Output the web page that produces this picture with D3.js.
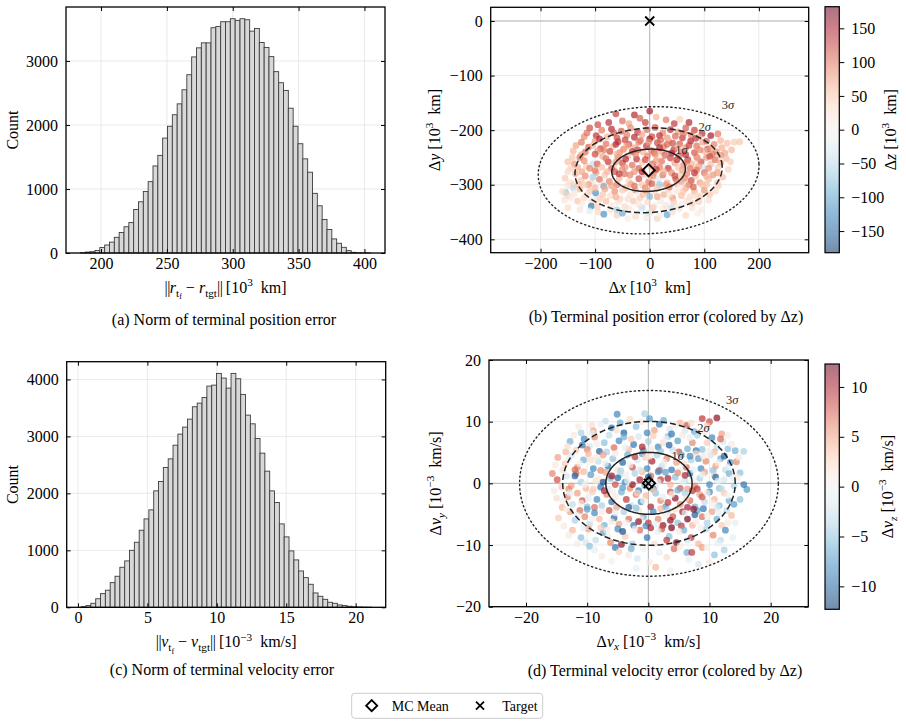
<!DOCTYPE html>
<html><head><meta charset="utf-8">
<script src="https://cdn.jsdelivr.net/npm/d3@7"></script>
<style>
body{margin:0;background:#fff}
svg{display:block}
text{font-family:"Liberation Serif","DejaVu Serif",serif;fill:#000;white-space:pre}
</style>
</head><body>
<svg id="c" width="906" height="725"></svg>
<script>
// ---------------- DATA ----------------
// (a) histogram of ||r_tf - r_tgt|| [10^3 km], 60 equal bins
const posBinMin = 184.4, posBinMax = 404.6;
const posCounts = [5,15,20,40,85,125,170,245,320,410,
  475,680,800,960,1115,1360,1525,1795,1980,2160,
  2330,2550,2785,3063,3205,3283,3283,3519,3540,3613,
  3613,3660,3634,3660,3644,3466,3508,3288,3210,3068,
  2833,2660,2540,2262,1980,1707,1471,1262,932,738,
  524,367,220,152,89,37,10,2,1,1];
const posHistTicksX = [200,250,300,350,400];
const posHistTicksY = [0,1000,2000,3000];

// (c) histogram of ||v_tf - v_tgt|| [10^-3 km/s], 60 equal bins
const velBinMin = 0.234, velBinMax = 21.12;
const velCounts = [12,30,70,150,240,300,433,545,703,814,
  1000,1142,1353,1552,1710,2044,2208,2454,2606,2846,
  3040,3163,3303,3520,3584,3684,3883,3900,4106,4024,
  3848,4106,4012,3737,3374,3221,2964,2706,2390,2044,
  1839,1464,1236,990,832,638,521,404,252,193,
  140,88,70,41,30,18,10,6,3,2];
const velHistTicksX = [0,5,10,15,20];
const velHistTicksY = [0,1000,2000,3000,4000];

// (b) terminal position error samples [dx, dy, dz] (10^3 km)
const posSamples = [
[0,-165,150],[-28,-172,140],[-62,-170,125],[12,-176,60],[-18,-178,110],[-75,-186,135],[-50,-183,100],[30,-181,95],[45,-188,130],[-95,-190,120],[72,-186,140],[-38,-188,70],[55,-180,40],[-8,-186,125],
[-110,-196,120],[-88,-200,95],[-70,-198,140],[-52,-202,110],[-35,-196,85],[-22,-204,130],[-5,-199,100],[10,-195,115],[24,-205,90],[38,-199,140],[52,-203,75],[66,-196,110],[82,-200,125],[96,-206,135],[112,-210,150],[-120,-212,85],[-98,-210,130],[-78,-212,60],[-60,-214,120],[-42,-209,95],[-28,-213,140],[-14,-208,70],[4,-212,120],[18,-210,135],[32,-214,80],[47,-211,105],[60,-214,130],[76,-209,90],[90,-213,60],[125,-207,95],
[-135,-228,70],[-125,-222,95],[-112,-231,110],[-100,-220,80],[-90,-234,125],[-80,-225,100],[-68,-230,55],[-58,-221,130],[-48,-235,90],[-38,-226,115],[-27,-232,70],[-17,-219,105],[-6,-229,135],[3,-237,85],[14,-223,120],[26,-230,95],[35,-219,60],[44,-236,130],[55,-225,110],[66,-232,80],[75,-220,140],[86,-229,100],[97,-222,70],[106,-235,125],[118,-226,90],[130,-219,60],[142,-224,55],[155,-222,45],[165,-221,50],[150,-236,60],[-140,-238,60],[-118,-240,100],[-95,-238,75],[-73,-239,120],[-55,-241,85],[-32,-239,130],[-12,-240,60],[8,-241,110],[22,-239,75],[40,-242,140],[60,-240,95],[82,-241,115],[100,-238,60],[122,-240,85],[138,-242,70],
[-150,-258,55],[-138,-262,80],[-128,-250,100],[-116,-266,45],[-104,-262,-40],[-96,-262,110],[-86,-248,70],[-76,-258,130],[-66,-266,40],[-58,-250,95],[-50,-260,120],[-40,-247,60],[-32,-264,100],[-24,-253,135],[-14,-259,50],[-4,-247,90],[6,-262,115],[14,-250,30],[22,-257,100],[30,-266,-20],[38,-251,125],[46,-260,70],[54,-247,105],[62,-264,85],[70,-254,130],[78,-262,60],[86,-249,95],[94,-258,120],[98,-268,-30],[104,-250,80],[112,-262,55],[120,-254,100],[130,-260,70],[140,-252,60],[148,-258,45],[-145,-270,40],[-132,-268,65],[-110,-270,90],[-88,-268,55],[-70,-270,105],[-45,-268,80],[-20,-270,110],[2,-266,60],[18,-268,95],[34,-270,130],[52,-268,50],[74,-270,100],[90,-266,70],[108,-270,85],[125,-268,45],[-60,-244,65],[10,-244,85],[-125,-245,75],[115,-244,95],[66,-245,140],
[-155,-288,45],[-146,-296,30],[-136,-280,65],[-126,-292,50],[-118,-284,85],[-108,-296,35],[-98,-278,70],[-92,-290,100],[-82,-282,50],[-74,-294,90],[-64,-276,115],[-56,-288,60],[-46,-280,100],[-38,-294,40],[-28,-276,80],[-20,-289,120],[-10,-281,55],[-2,-295,95],[8,-278,70],[16,-290,-25],[24,-282,100],[32,-296,60],[40,-278,85],[48,-290,110],[56,-282,45],[62,-296,-15],[68,-280,90],[76,-292,120],[84,-284,55],[92,-296,75],[100,-278,100],[108,-290,60],[116,-282,80],[124,-296,45],[134,-286,55],[-140,-300,40],[-130,-299,55],[-112,-300,75],[-86,-300,40],[-60,-300,95],[-34,-299,70],[-14,-300,50],[4,-298,110],[30,-300,80],[50,-299,60],[72,-300,95],[96,-300,50],[-50,-272,85],[12,-272,130],[60,-273,75],[-104,-286,-60],[-140,-306,-50],[-84,-303,-90],[0,-286,40],[86,-273,100],[-154,-314,-70],
[-160,-312,30],[-150,-320,40],[-138,-316,20],[-128,-308,60],[-120,-324,35],[-110,-312,50],[-99,-315,-110],[-92,-326,45],[-82,-308,70],[-72,-320,30],[-64,-312,85],[-54,-326,40],[-44,-306,60],[-36,-318,20],[-26,-310,75],[-18,-324,45],[-8,-306,90],[0,-322,-80],[8,-312,30],[18,-300,-70],[26,-318,65],[34,-308,40],[42,-324,80],[50,-312,20],[58,-320,55],[66,-306,70],[74,-322,35],[82,-312,60],[92,-322,45],[100,-310,80],[110,-318,50],[120,-312,35],[-156,-328,25],[-132,-330,50],[-106,-330,30],[-80,-330,55],[-58,-332,25],[-30,-330,50],[-4,-332,35],[20,-330,15],[44,-332,45],[68,-330,30],[90,-331,40],[-20,-315,5],[56,-304,10],
[-150,-342,30],[-128,-346,20],[-107,-339,-130],[-94,-350,35],[-84,-354,-110],[-72,-346,25],[-60,-356,40],[-50,-352,-90],[-38,-344,20],[-26,-358,30],[-14,-342,-45],[-6,-360,15],[4,-348,25],[14,-362,40],[24,-344,10],[32,-355,-95],[42,-350,30],[54,-344,20],[66,-356,35],[78,-342,25],[96,-346,15],[-18,-350,-10],[10,-338,0],[-40,-362,10],[60,-336,5],
[-115,-205,100],[-92,-216,140],[-66,-205,115],[-45,-218,125],[-20,-222,95],[0,-216,145],[20,-218,110],[42,-224,120],[62,-206,100],[84,-215,130],[104,-220,110],[-104,-228,60],[-84,-236,95],[-62,-226,140],[-42,-229,75],[-22,-236,120],[-2,-222,80],[18,-232,140],[32,-226,105],[52,-232,70],[72,-228,125],[92,-236,90],[112,-232,75],[132,-232,65],
[-142,-250,50],[-120,-256,85],[-100,-244,120],[-80,-252,100],[-62,-258,75],[-44,-253,140],[-26,-244,90],[-8,-254,120],[12,-256,75],[28,-246,110],[50,-254,135],[68,-258,95],[88,-252,75],[110,-248,120],[130,-246,80],[-150,-276,35],[-124,-276,70],[-100,-274,95],[-78,-276,60],[-56,-280,130],[-36,-282,90],[-14,-276,140],[6,-284,85],[26,-276,65],[46,-284,120],[64,-288,90],[82,-278,130],[104,-284,65],[124,-278,75],[144,-272,40],
[-150,-302,25],[-120,-300,45],[-100,-306,60],[-70,-302,75],[-50,-310,45],[-28,-302,100],[-6,-312,70],[14,-306,50],[36,-304,95],[58,-294,70],[80,-304,110],[104,-300,55],[126,-302,40],[-144,-324,15],[-116,-318,30],[-86,-318,50],[-62,-322,65],[-40,-326,30],[-12,-318,55],[14,-322,70],[36,-318,25],[62,-312,50],[86,-320,35],[108,-328,30],[-124,-336,10],[-96,-340,40],[-70,-338,15],[-46,-340,35],[-20,-336,20],[6,-342,45],[30,-338,25],[52,-340,15],[78,-334,40],[-110,-348,-20],[-2,-352,-30],[20,-356,-5],[88,-352,10],[-60,-346,-60],[40,-342,-40]
];
const posMean = [-2,-273.5];
const posTarget = [0,0];
const posSigma = {a:67.5, b:38.7, angleDeg:3.5};
const posSigmaLabelAt = [[58,-236],[101,-194],[143.6,-153.4]];
const posZRange = [-182,182];
const posTicksX = [-200,-100,0,100,200];
const posTicksY = [0,-100,-200,-300,-400];
const posCbarTicks = [-150,-100,-50,0,50,100,150];

// (d) terminal velocity error samples [dvx, dvy, dvz] (10^-3 km/s)
const velSamples = [
[-5.1,11.2,-8],[-0.6,11.3,-4],[0.2,10.5,-7],[-3,10.4,2],[-7,10.1,-3],[2.5,10.2,-6],[5.2,9.8,4],[6.3,9.4,8],[8.8,10.5,9],[11.2,10.6,11],[10,10,8],[9.6,9.3,3],[-9.2,9.4,2],[-9,8.5,5],[-6,9,-9],[-2,9.2,-5],[3.5,8.8,-2],[-4,8.2,-10],[1,8.6,5],[7.5,8.4,-6],[12,8,5],[-11,8.2,-4],
[-12.8,6.8,-6],[-11.8,5.4,3],[-10.5,7.2,-8],[-9.6,6,-2],[-8.8,7.5,6],[-8,5.2,-10],[-7.2,6.6,-5],[-6.4,7.8,-3],[-5.6,5.8,7],[-4.8,6.9,-8],[-4,7.5,-6],[-3.2,5.5,4],[-2.4,6.3,-9],[-1.6,7.6,-2],[-0.8,5.3,-7],[0,6.8,-4],[0.8,7.7,3],[1.6,5.9,-8],[2.4,6.6,2],[3.2,7.6,-5],[4,5.4,-3],[4.8,6.9,-7],[5.6,7.8,1],[6.4,5.6,-6],[7.2,6.6,6],[8,7.8,-4],[8.8,5.5,-5],[9.6,6.6,3],[10.4,7.4,-8],[11.2,5.8,-3],[12.2,6.8,-2],[13,5.6,-5],[14.2,5.3,-6],[15.6,5.2,-4],[-13.5,5.1,4],[-10,5.5,6],[-6.8,5.1,-4],[-1,5.9,10],[2,5.2,-5],[5,5.1,8],[7.8,5.3,-9],[10.8,5.1,4],[-2.8,7.2,3],[3.8,8.0,-9],[11.8,7.2,7],
[-14.8,4.2,5],[-13.6,3.2,3],[-12.6,4.6,-2],[-11.6,2.6,6],[-10.6,3.8,-6],[-9.8,4.8,4],[-9,2.4,-8],[-8.2,3.6,-3],[-7.4,4.6,5],[-6.6,2.8,-9],[-5.8,4,-5],[-5,2.2,2],[-4.2,3.4,-10],[-3.4,4.6,-6],[-2.6,2.6,8],[-1.8,3.8,-2],[-1,4.8,-7],[-0.2,2.4,-8],[0.6,3.6,10],[1.4,4.6,-4],[2.2,2.8,-3],[3,4,6],[3.8,2.2,-9],[4.6,3.4,5],[5.4,4.6,-6],[6.2,2.6,7],[7,3.8,-4],[7.8,4.8,2],[8.6,2.4,-8],[9.4,3.6,6],[10.2,4.6,-2],[11,2.8,5],[11.8,4,-6],[12.6,2.2,-3],[13.4,3.4,-7],[14.4,3.5,6],[15,1.7,-5],[-14,2.2,2],[-12,2.2,7],[-8.5,4.2,1],[-4.5,2.0,-4],[-0.5,4.2,3],[1.8,2.1,8],[5.2,2.1,-1],[8.2,4.0,-7],[12.4,4.4,-10],[-7.8,2.1,6],[10.6,2.1,-5],[-2.2,4.3,9],[6.8,4.4,-8],
[-15.7,1.6,6],[-14.9,0.6,8],[-14.2,-0.6,3],[-13.4,1.2,-2],[-12.6,-0.4,5],[-11.8,1.6,7],[-11,0.2,-4],[-10.2,-0.8,4],[-9.4,1.4,-7],[-8.6,0.4,2],[-7.8,-0.6,-9],[-7,1.8,5],[-6.2,0.8,-5],[-5.4,-0.2,8],[-4.6,1.4,-3],[-3.8,0.2,-8],[-3,-0.8,6],[-2.2,1.6,-4],[-1.4,0.6,10],[-0.6,-0.4,-6],[0.4,1.2,7],[1.2,-0.6,-2],[2,0.6,9],[2.8,1.8,-7],[3.6,-0.2,4],[4.4,1,-5],[5.2,-0.8,8],[6,0.4,-3],[6.8,1.6,-9],[7.6,-0.4,6],[8.4,0.8,-4],[9.2,1.8,5],[10,-0.2,-8],[10.8,1.2,3],[11.6,-0.8,-5],[12.4,0.6,-2],[13.2,1.6,-6],[14,-0.4,-4],[16.1,-1,-7],[-13,-0.9,6],[-9,-0.9,3],[-5,0.9,-10],[-1,1.9,4],[1.6,1.9,-8],[4.8,1.7,6],[8,-0.9,9],[12,-0.9,-3],[-2.6,-0.2,11],[3.2,0.8,10],[0.8,-0.9,-9],[-6.6,-0.9,-2],[6.4,-0.9,5],[-10.6,1.9,4],[13.8,0.9,-1],[-4.2,-0.7,-7],
[-14.1,-3.9,4],[-13.2,-2.2,6],[-12.4,-3.4,-3],[-11.6,-1.6,5],[-10.8,-2.8,8],[-10,-3.8,-5],[-9.2,-1.4,3],[-8.4,-2.6,-8],[-7.6,-3.6,-4],[-6.8,-1.8,6],[-6,-3,-9],[-5.2,-3.9,5],[-4.4,-1.4,-6],[-3.6,-2.6,9],[-2.8,-3.6,-3],[-2,-1.8,7],[-1.2,-3,-8],[-0.4,-2,4],[0.4,-3.8,10],[1.2,-1.6,-5],[2,-2.8,6],[2.8,-3.8,-7],[3.6,-1.4,8],[4.4,-2.4,11],[5.2,-3.4,6],[6,-1.6,-4],[6.8,-2.8,7],[7.6,-3.8,-6],[8.4,-1.8,5],[9.2,-3,-3],[10,-1.4,-8],[10.8,-2.6,4],[11.6,-3.6,-5],[12.4,-1.6,3],[13.2,-2.8,-6],[15,-2.6,-5],[-15,-2.4,2],[-11,-3.2,1],[-7.2,-1.2,10],[-3.2,-3.9,-10],[0.8,-1.1,3],[3.2,-3.1,9],[6.4,-3.9,10],[8.8,-2.2,8],[11.2,-3.9,-2],[14,-3.4,-7],[-1.6,-1.2,-9],[4.8,-1.1,-6],[-8.8,-3.9,7],[7.2,-1.2,9],
[-14.7,-5.6,3],[-13.8,-6.9,1],[-12.8,-4.6,5],[-12,-6,-4],[-11.2,-4.4,7],[-10.4,-5.4,6],[-9.6,-6.6,-3],[-8.8,-4.8,-8],[-8,-5.8,4],[-7.2,-6.8,-6],[-6.4,-4.4,8],[-5.6,-5.6,-10],[-4.8,-6.6,5],[-4,-4.6,-4],[-3.2,-5.8,7],[-2.4,-6.8,-9],[-1.6,-4.4,2],[-0.8,-5.4,-6],[0,-6.4,9],[0.8,-4.6,-8],[1.6,-5.8,6],[2.4,-6.8,11],[3.2,-4.4,-3],[4,-5.4,8],[4.8,-6.4,-5],[5.6,-4.6,10],[6.4,-5.8,12],[7.2,-6.8,4],[8,-4.4,-7],[8.8,-5.4,7],[9.6,-6.4,-4],[10.4,-4.6,5],[11.2,-5.8,-6],[12,-6.8,3],[12.8,-4.4,-3],[13.6,-5.2,4],[-10,-4.2,-7],[-6,-6.2,1],[-2,-4.0,-5],[2,-4.1,4],[5.4,-6.9,9],[9,-4.1,-9],[-0.4,-6.9,-8],[3.6,-6.0,11],[7.6,-5.1,-10],
[-12.4,-7.6,4],[-11,-8.8,-5],[-9.8,-7.4,5],[-8.6,-9.2,-3],[-7.4,-8,-7],[-6.2,-9.6,6],[-5,-7.4,-8],[-3.8,-8.6,3],[-2.6,-9.8,-4],[-1.4,-7.6,7],[-0.2,-8.8,-9],[1,-9.8,2],[2.2,-7.4,8],[3.4,-8.6,-5],[4.6,-9.6,12],[5.8,-7.6,-6],[7,-8.8,9],[8.2,-9.8,4],[9.4,-7.4,-4],[10.6,-8.4,6],[11.8,-9.2,-3],[-4.4,-9.9,11],[0.4,-7.2,10],[6.4,-9.2,-2],[12.6,-7.6,-8],[-10.2,-9.6,-2],[3,-9.2,9],[-7.8,-7.2,3],
[-9.6,-10.2,-5],[-5.4,-10.4,-9],[-4.8,-11.1,3],[-1.8,-12.2,-2],[3,-12,2],[6.3,-11.2,-6],[7.1,-11.2,9],[8.2,-13.1,-2],[10.8,-11.6,-5],[1.2,-13.6,4],[-7.6,-11.8,1],[4.2,-10.6,7],[12.4,-10.8,-4],[-2.8,-10.6,-6],[8.8,-10.4,5],
[-11.4,9.2,1],[-7.8,9.6,-1],[-4.6,9.8,-6],[-1.2,10,1],[1.8,9.6,-9],[4.4,9.4,0],[7,9.8,2],[-12.2,7.8,1],[-9.2,8.2,-1],[-5.2,8.6,2],[-0.2,8.2,-8],[2.8,7.2,0],[6,8.6,-2],[9.2,8.4,1],[13,7.8,0],[-13.2,6,2],[-8.4,6.4,0],[-3.8,5.8,-1],[0.4,5.6,1],[3.4,6.2,-10],[6.8,7.4,-1],[9.8,5.2,0],[13.6,6.4,1],[-10.8,6.2,-9],
[-15.2,3,1],[-13,4,-1],[-11.2,3.2,0],[-9.4,3.8,2],[-7,3.2,-1],[-5.4,4.8,1],[-3,3,0],[-1.4,2.2,-2],[0.2,4.4,1],[2.6,3.4,-1],[4.2,4.8,0],[5.8,3.2,2],[7.4,2.2,-1],[9,4.4,1],[11.4,3.4,0],[13,2.6,-1],[14.8,4.2,1],[-12,1.2,-10],[-6,1.2,11],[0,1,-11],[6,1.3,10],[11,1,-10],[-3.6,1.4,0],[8.8,1.4,-1],
[-15.4,-1.2,1],[-12.8,-1.6,-1],[-10.4,-0.2,0],[-8.2,0.8,1],[-5.8,-1.4,0],[-3.4,0.4,-1],[-1.8,-1.6,2],[1.6,0.2,0],[3.8,-1.8,1],[5.6,0.2,-1],[7.2,0.6,0],[9.6,-1.6,1],[11.4,0.4,-1],[13,-2,0],[14.6,1,1],[-14,-2.8,0],[-9.8,-2.4,-1],[-5.4,-2.2,1],[-0.8,-2.8,0],[2.4,-2.2,-1],[6.2,-2.4,2],[10.4,-3.2,0],[15.6,-0.2,-9],[-7.4,0.2,-11],
[-13.4,-4.2,1],[-11.6,-5.2,-1],[-9.2,-5.8,0],[-7.6,-4.6,1],[-5.4,-4.8,-1],[-3.6,-6.4,0],[-1.2,-5.8,1],[1.2,-6.6,-1],[2.8,-5.2,0],[4.4,-4.2,2],[6,-4.8,-1],[7.8,-6.2,1],[9.6,-5.2,0],[11.6,-4.8,-1],[13,-6.4,1],[-10.6,-7.2,-1],[-6.8,-7.6,1],[-2.2,-7.4,0],[1.6,-7.8,-1],[5,-7.8,1],[8.6,-7.2,0],[14.2,-6.4,-1],[-1.6,-6.2,11],[3.8,-7.2,12],[7.4,-4.2,11],[-4.2,-7.8,-11],
[-11.6,-9.8,1],[-8.8,-10.8,-1],[-6.6,-8.6,0],[-3.2,-11.6,1],[-0.8,-10.6,0],[1.8,-11.2,-1],[5.2,-10.2,1],[9.6,-10.4,0],[11.4,-9.6,-1],[-6,-12.6,0],[0.2,-12.8,1],[6.6,-12.4,-1],[3.6,-14.2,0],[-13,-8.4,1],[13.8,-8.8,-1],[10,-12.8,1],[-2,-13.8,-1]
];
const velMean = [0.1,0];
const velTarget = [0,0];
const velSigma = {a:7.05, b:5.02, angleDeg:0};
const velSigmaLabelAt = [[4.8,4.5],[9.0,8.9],[13.7,13.5]];
const velZRange = [-12.3,12.3];
const velTicks = [-20,-10,0,10,20];
const velCbarTicks = [-10,-5,0,5,10];

const legendItems = ["MC Mean","Target"];

// ---------------- DRAWING ----------------
const svg = d3.select('#c');
const TICK_FS = 16, LABEL_FS = 16;
const fmt = d => d < 0 ? '\u2212' + Math.abs(d) : String(d);

function rich(sel, parts, size){
  sel.style('font-size', size + 'px');
  let cur = 0;
  parts.forEach(p => {
    let shift = 0, fs = size;
    if (p.sup) { shift = -0.42 * size; fs = 0.7 * size; }
    else if (p.sub) { shift = 0.22 * size; fs = 0.7 * size; }
    else if (p.sub2) { shift = 0.4 * size; fs = 0.5 * size; }
    const ts = sel.append('tspan').attr('dy', (shift - cur).toFixed(2)).style('font-size', fs + 'px').text(p.t);
    if (p.i) ts.style('font-style', 'italic');
    if (p.ls != null) ts.style('letter-spacing', p.ls + 'px');
    cur = shift;
  });
}

function panel(o){
  const g = svg.append('g').attr('transform', `translate(${o.left},${o.top})`);
  const x = d3.scaleLinear().domain(o.xDomain).range([0, o.W]);
  const y = d3.scaleLinear().domain(o.yDomain).range([o.H, 0]);
  const grid = g.append('g');
  grid.selectAll('.gx').data(o.xTicks).join('line')
    .attr('x1', d => x(d)).attr('x2', d => x(d)).attr('y1', 0).attr('y2', o.H)
    .attr('stroke', '#e4e4e4').attr('stroke-width', 0.8);
  grid.selectAll('.gy').data(o.yTicks).join('line')
    .attr('y1', d => y(d)).attr('y2', d => y(d)).attr('x1', 0).attr('x2', o.W)
    .attr('stroke', '#e4e4e4').attr('stroke-width', 0.8);
  const content = g.append('g');
  const over = g.append('g');
  return {g, x, y, content, over, o};
}

function finish(p, xLabelParts, yLabelParts, caption, capX, capY){
  const {g, x, y, o} = p;
  const styleAxis = a => {
    a.select('.domain').remove();
    a.selectAll('line').attr('stroke', '#000').attr('stroke-width', 1);
    a.selectAll('text').attr('font-family', null).attr('font-size', null)
      .style('font-size', TICK_FS + 'px').attr('fill', '#000');
  };
  g.append('g').attr('transform', `translate(0,${o.H})`)
    .call(d3.axisBottom(x).tickValues(o.xTicks).tickSize(-4).tickPadding(4.5).tickFormat(fmt)).call(styleAxis);
  g.append('g').call(d3.axisTop(x).tickValues(o.xTicks).tickSize(-4).tickFormat('')).call(styleAxis);
  g.append('g').call(d3.axisLeft(y).tickValues(o.yTicks).tickSize(-4).tickPadding(8).tickFormat(fmt)).call(styleAxis);
  g.append('g').attr('transform', `translate(${o.W},0)`)
    .call(d3.axisRight(y).tickValues(o.yTicks).tickSize(-4).tickFormat('')).call(styleAxis);
  g.append('rect').attr('x', 0).attr('y', 0).attr('width', o.W).attr('height', o.H)
    .attr('fill', 'none').attr('stroke', '#000').attr('stroke-width', 1.3);
  const xl = g.append('text').attr('x', o.W / 2 + (o.xLabelDx || 0)).attr('y', o.H + 40).attr('text-anchor', 'middle');
  rich(xl, xLabelParts, LABEL_FS);
  const yl = g.append('text').attr('transform', `translate(${o.yLabelX},${o.H / 2}) rotate(-90)`).attr('text-anchor', 'middle');
  rich(yl, yLabelParts, LABEL_FS);
  svg.append('text').attr('x', capX).attr('y', capY).attr('text-anchor', 'middle')
    .style('font-size', '16px').text(caption);
}

function histogram(p, binMin, binMax, counts){
  const n = counts.length, w = (binMax - binMin) / n;
  const bins = counts.map((c, i) => ({x0: binMin + i * w, x1: binMin + (i + 1) * w, c}));
  p.content.selectAll('rect').data(bins).join('rect')
    .attr('x', d => p.x(d.x0)).attr('width', d => p.x(d.x1) - p.x(d.x0))
    .attr('y', d => p.y(d.c)).attr('height', d => p.y(0) - p.y(d.c))
    .attr('fill', '#d8d8d8').attr('stroke', '#3c3c3c').attr('stroke-width', 0.9);
}

function cmapFor(range){
  return v => d3.interpolateRdBu(1 - (v - range[0]) / (range[1] - range[0]));
}

function scatterPanel(p, samples, zRange, mean, target, sig, labelAt){
  const {x, y, content, over} = p;
  const cm = cmapFor(zRange);
  content.append('line').attr('x1', x(0)).attr('x2', x(0)).attr('y1', 0).attr('y2', p.o.H)
    .attr('stroke', '#b5b5b5').attr('stroke-width', 1);
  content.append('line').attr('y1', y(0)).attr('y2', y(0)).attr('x1', 0).attr('x2', p.o.W)
    .attr('stroke', '#b5b5b5').attr('stroke-width', 1);
  content.selectAll('circle').data(samples).join('circle')
    .attr('cx', d => x(d[0])).attr('cy', d => y(d[1])).attr('r', 3.4)
    .attr('fill', d => cm(d[2])).attr('fill-opacity', 0.7);
  const th = sig.angleDeg * Math.PI / 180;
  const dashes = [null, '6,3', '1.3,3'];
  [1, 2, 3].forEach((k, i) => {
    const pts = d3.range(0, 361, 2).map(a => {
      const t = a * Math.PI / 180;
      const ex = k * sig.a * Math.cos(t), ey = k * sig.b * Math.sin(t);
      return [mean[0] + ex * Math.cos(th) - ey * Math.sin(th), mean[1] + ex * Math.sin(th) + ey * Math.cos(th)];
    });
    over.append('path').attr('d', d3.line().x(d => x(d[0])).y(d => y(d[1]))(pts))
      .attr('fill', 'none').attr('stroke', '#222').attr('stroke-width', i === 2 ? 1.4 : 1.5)
      .attr('stroke-dasharray', dashes[i]).attr('stroke-linecap', i === 2 ? 'round' : 'butt');
    const lt = over.append('text').attr('x', x(labelAt[i][0])).attr('y', y(labelAt[i][1]) + 4)
      .attr('text-anchor', 'middle').style('font-size', '12.5px').style('fill', '#2a2a2a');
    lt.append('tspan').text(String(k)).style('fill', '#2a2a2a');
    lt.append('tspan').text('\u03c3').style('font-style', 'italic').style('fill', '#2a2a2a');
  });
  const tx = x(target[0]), ty = y(target[1]), s = 4.5;
  over.append('path').attr('d', `M${tx - s},${ty - s}L${tx + s},${ty + s}M${tx - s},${ty + s}L${tx + s},${ty - s}`)
    .attr('stroke', '#000').attr('stroke-width', 1.8).attr('fill', 'none');
  const mx = x(mean[0]), my = y(mean[1]), r = 6.2;
  over.append('path').attr('d', `M${mx},${my - r}L${mx + r},${my}L${mx},${my + r}L${mx - r},${my}Z`)
    .attr('stroke', '#000').attr('stroke-width', 1.9).attr('fill', 'none');
}

function colorbar(cx, cy, cw, ch, range, ticks, id, labelParts, labelX){
  const cm = cmapFor(range);
  const defs = svg.append('defs');
  const grad = defs.append('linearGradient').attr('id', id).attr('x1', 0).attr('y1', 1).attr('x2', 0).attr('y2', 0);
  d3.range(0, 1.0001, 0.05).forEach(t => {
    grad.append('stop').attr('offset', t).attr('stop-color', cm(range[0] + t * (range[1] - range[0]))).attr('stop-opacity', 0.55);
  });
  const s = d3.scaleLinear().domain(range).range([ch, 0]);
  const g = svg.append('g').attr('transform', `translate(${cx},${cy})`);
  g.append('rect').attr('width', cw).attr('height', ch).attr('fill', `url(#${id})`);
  g.append('rect').attr('width', cw).attr('height', ch).attr('fill', 'none').attr('stroke', '#000').attr('stroke-width', 1.2);
  const ax = g.append('g').attr('transform', `translate(${cw},0)`)
    .call(d3.axisRight(s).tickValues(ticks).tickSize(5).tickPadding(7).tickFormat(fmt));
  ax.select('.domain').remove();
  ax.selectAll('line').attr('stroke', '#000');
  ax.selectAll('text').attr('font-family', null).attr('font-size', null).style('font-size', TICK_FS + 'px').attr('fill', '#000');
  const lab = svg.append('text').attr('transform', `translate(${labelX},${cy + ch / 2}) rotate(-90)`).attr('text-anchor', 'middle');
  rich(lab, labelParts, LABEL_FS);
}

const BARS = {t:'||', ls:-0.5};
const BARS2 = {t:'|| ', ls:-0.5};

// ----- (a)
(function(){
  const R = posBinMax - posBinMin;
  const p = panel({left: 66, top: 7, W: 319, H: 246,
    xDomain: [posBinMin - 0.05 * R, posBinMax + 0.05 * R], yDomain: [0, d3.max(posCounts) * 1.05],
    xTicks: posHistTicksX, yTicks: posHistTicksY});
  histogram(p, posBinMin, posBinMax, posCounts);
  p.o.yLabelX = -48;
  finish(p,
    [BARS,{t:'r',i:1},{t:'t',sub:1},{t:'f',sub2:1},{t:' \u2212 '},{t:'r',i:1},{t:'tgt',sub:1},BARS2,{t:'[10'},{t:'3',sup:1},{t:'  km]'}],
    [{t:'Count'}], '(a) Norm of terminal position error', 224, 325);
})();

// ----- (c)
(function(){
  const R = velBinMax - velBinMin;
  const p = panel({left: 66.7, top: 361.7, W: 319, H: 245.6,
    xDomain: [velBinMin - 0.05 * R, velBinMax + 0.05 * R], yDomain: [0, d3.max(velCounts) * 1.05],
    xTicks: velHistTicksX, yTicks: velHistTicksY});
  histogram(p, velBinMin, velBinMax, velCounts);
  p.o.yLabelX = -48.5;
  finish(p,
    [BARS,{t:'v',i:1},{t:'t',sub:1},{t:'f',sub2:1},{t:' \u2212 '},{t:'v',i:1},{t:'tgt',sub:1},BARS2,{t:'[10'},{t:'\u22123',sup:1},{t:'  km/s]'}],
    [{t:'Count'}], '(c) Norm of terminal velocity error', 222, 675);
})();

// ----- (b)
(function(){
  const p = panel({left: 490.7, top: 7.3, W: 318, H: 245.4,
    xDomain: [-291.3, 291.3], yDomain: [-424.5, 25.1],
    xTicks: posTicksX, yTicks: posTicksY});
  scatterPanel(p, posSamples, posZRange, posMean, posTarget, posSigma, posSigmaLabelAt);
  p.o.yLabelX = -51;
  finish(p,
    [{t:'\u0394'},{t:'x',i:1},{t:' [10'},{t:'3',sup:1},{t:'  km]'}],
    [{t:'\u0394'},{t:'y',i:1},{t:' [10'},{t:'3',sup:1},{t:'  km]'}],
    '(b) Terminal position error (colored by \u0394z)', 666, 322);
  colorbar(825, 6.7, 14.3, 246, posZRange, posCbarTicks, 'cb1',
    [{t:'\u0394'},{t:'z',i:1},{t:' [10'},{t:'3',sup:1},{t:'  km]'}], 896);
})();

// ----- (d)
(function(){
  const p = panel({left: 489, top: 360, W: 319.3, H: 246.7,
    xDomain: [-26.05, 26.15], yDomain: [-20, 20],
    xTicks: velTicks, yTicks: velTicks});
  scatterPanel(p, velSamples, velZRange, velMean, velTarget, velSigma, velSigmaLabelAt);
  p.o.yLabelX = -48;
  finish(p,
    [{t:'\u0394'},{t:'v',i:1},{t:'x',i:1,sub:1},{t:' [10'},{t:'\u22123',sup:1},{t:'  km/s]'}],
    [{t:'\u0394'},{t:'v',i:1},{t:'y',i:1,sub:1},{t:' [10'},{t:'\u22123',sup:1},{t:'  km/s]'}],
    '(d) Terminal velocity error (colored by \u0394z)', 665, 676);
  colorbar(825, 364, 14.3, 245.3, velZRange, velCbarTicks, 'cb2',
    [{t:'\u0394'},{t:'v',i:1},{t:'z',i:1,sub:1},{t:' [10'},{t:'\u22123',sup:1},{t:'  km/s]'}], 893);
})();

// ----- legend
(function(){
  const g = svg.append('g');
  g.append('rect').attr('x', 351.7).attr('y', 693.3).attr('width', 191).attr('height', 25).attr('rx', 3)
    .attr('fill', '#fff').attr('stroke', '#cccccc').attr('stroke-width', 1);
  const cy = 705.7, dx = 371.7, r = 5.5;
  g.append('path').attr('d', `M${dx},${cy - r}L${dx + r},${cy}L${dx},${cy + r}L${dx - r},${cy}Z`)
    .attr('fill', 'none').attr('stroke', '#000').attr('stroke-width', 1.9);
  const xx = 480, s = 4;
  g.append('path').attr('d', `M${xx - s},${cy - s}L${xx + s},${cy + s}M${xx - s},${cy + s}L${xx + s},${cy - s}`)
    .attr('stroke', '#000').attr('stroke-width', 1.7);
  g.append('text').attr('x', 391.7).attr('y', 710.5).style('font-size', '14px').text(legendItems[0]);
  g.append('text').attr('x', 502.3).attr('y', 710.5).style('font-size', '14px').text(legendItems[1]);
})();
</script>
</body></html>
